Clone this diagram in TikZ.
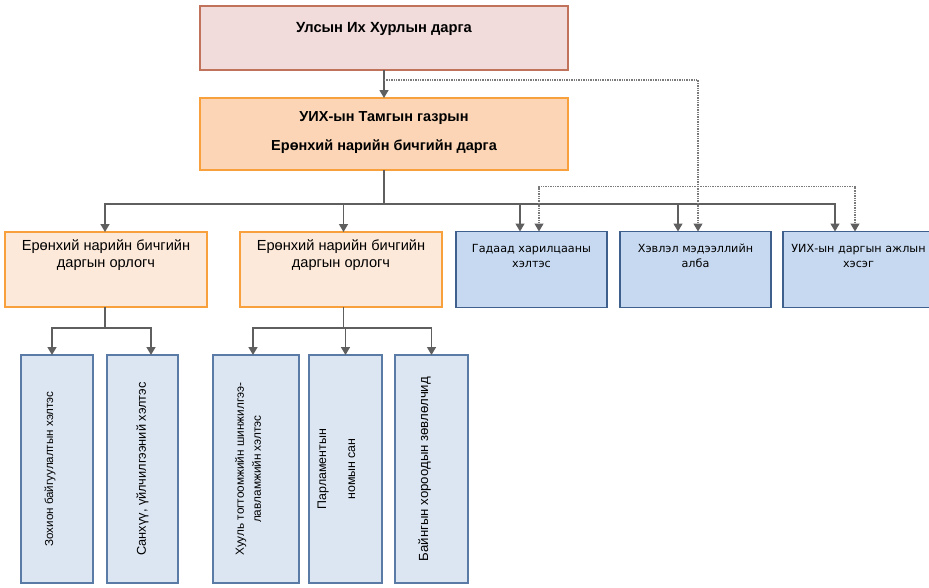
\documentclass[tikz,border=0pt]{standalone}
\usepackage{fontspec}
\setmainfont{Liberation Sans}
\newfontfamily\dejavu{DejaVu Sans}
\usetikzlibrary{positioning,arrows.meta}

\definecolor{chairfill}{HTML}{F2DCDB}
\definecolor{chairline}{HTML}{C0735A}
\definecolor{secfill}{HTML}{FBD5B5}
\definecolor{orangeline}{HTML}{F7A03C}
\definecolor{depfill}{HTML}{FDE9D9}
\definecolor{midfill}{HTML}{C6D9F1}
\definecolor{midline}{HTML}{3F5F8C}
\definecolor{botfill}{HTML}{DCE6F2}
\definecolor{botline}{HTML}{5B7BA7}
\definecolor{linkgray}{HTML}{5F5F5F}
\definecolor{dotgray}{HTML}{7A7A7A}
\definecolor{textdark}{HTML}{1E1E1E}

\begin{document}
\begin{tikzpicture}[
        x=1pt, y=-1pt,
        box/.style={
            rectangle,
            draw,
            line width=1.4pt,
            inner sep=0pt,
            outer sep=0pt,
            text=textdark
        },
        chairbox/.style={box, fill=chairfill, draw=chairline,
            minimum width=368pt, minimum height=64pt},
        secbox/.style={box, fill=secfill, draw=orangeline,
            minimum width=368pt, minimum height=72pt},
        depbox/.style={box, fill=depfill, draw=orangeline,
            minimum width=202pt, minimum height=75pt},
        midbox/.style={box, fill=midfill, draw=midline,
            minimum width=151pt, minimum height=76pt},
        botbox/.style={box, fill=botfill, draw=botline,
            minimum width=72pt, minimum height=228pt},
        arrow/.style={
            -{Triangle[width=9pt,length=8pt]},
            line width=1.4pt,
            draw=linkgray
        },
        link/.style={line width=1.4pt, draw=linkgray},
        dotarrow/.style={arrow, densely dotted, line width=1.3pt, draw=dotgray,
            -{Triangle[width=9pt,length=8pt,fill=linkgray,color=linkgray]}}
    ]

    \useasboundingbox (0,0) rectangle (929,587);

    % Chairman and secretary general
    \node[chairbox, label={[anchor=center, yshift=-23pt,
        font=\fontsize{14.7}{17}\selectfont\bfseries]north:Улсын Их Хурлын дарга}]
        (chair) at (384,38) {};
    \node[secbox, below=28pt of chair, label={[anchor=center, yshift=-34.5pt, align=center,
        font=\fontsize{14.5}{29}\selectfont\bfseries]north:УИХ-ын Тамгын газрын\\Ерөнхий нарийн бичгийн дарга}]
        (sec) {};

    % Deputies and units
    \node[depbox, anchor=north west, label={[anchor=center, yshift=-23.5pt, align=center,
        font=\fontsize{14.6}{17}\selectfont]north:Ерөнхий нарийн бичгийн\\даргын орлогч}]
        (dep1) at (5,232) {};
    \node[depbox, right=33pt of dep1, label={[anchor=center, yshift=-23.5pt, align=center,
        font=\fontsize{14.6}{17}\selectfont]north:Ерөнхий нарийн бичгийн\\даргын орлогч}]
        (dep2) {};
    \node[midbox, right=14pt of dep2, label={[anchor=center, yshift=-24.5pt, align=center,
        font=\dejavu\fontsize{11.2}{15}\selectfont]north:Гадаад харилцааны\\хэлтэс}]
        (foreign) {};
    \node[midbox, right=13pt of foreign, label={[anchor=center, yshift=-24.5pt, align=center,
        font=\dejavu\fontsize{11.2}{15}\selectfont]north:Хэвлэл мэдээллийн\\алба}]
        (press) {};
    \node[midbox, right=12pt of press, label={[anchor=center, yshift=-24.5pt, align=center,
        font=\dejavu\fontsize{11.2}{15}\selectfont]north:УИХ-ын даргын ажлын\\хэсэг}]
        (office) {};

    % Departments
    \node[botbox, anchor=north west, label={[xshift=-7pt, rotate=90,
        font=\fontsize{11.6}{14}\selectfont]center:Зохион байгуулалтын хэлтэс}]
        (orgdept) at (21,355) {};
    \node[botbox, minimum width=71pt, right=14pt of orgdept, label={[rotate=90,
        font=\fontsize{12.8}{15}\selectfont]center:Санхүү, үйлчилгээний хэлтэс}]
        (findept) {};
    \node[botbox, minimum width=86pt, anchor=north west, label={[xshift=-8pt, rotate=90, align=center,
        font=\fontsize{11.8}{17}\selectfont]center:Хууль тогтоомжийн шинжилгээ-\\лавламжийн хэлтэс}]
        (legal) at (213,355) {};
    \node[botbox, minimum width=73pt, right=10pt of legal, label={[xshift=-9pt, rotate=90, align=center,
        font=\fontsize{12.4}{29}\selectfont]center:Парламентын\\номын сан}]
        (library) {};
    \node[botbox, minimum width=73pt, right=13pt of library, label={[xshift=-7pt, rotate=90,
        font=\fontsize{13.2}{15}\selectfont]center:Байнгын хороодын зөвлөлчид}]
        (council) {};

    % Branch points
    \coordinate (split) at ([yshift=-10pt]chair.south);
    \coordinate (bus) at ([yshift=-34pt]sec.south);
    \coordinate (dotbus) at ([xshift=2.5pt, yshift=45pt]press.north);
    \coordinate (bus1) at ([xshift=-1pt, yshift=-21pt]dep1.south);
    \coordinate (bus2) at ([xshift=2.5pt, yshift=-21pt]dep2.south);

    % Connections
    \draw[arrow] (chair) -- (sec);
    \draw[link] (sec) -- (bus);
    \draw[arrow] (bus) -| ([xshift=-1pt]dep1.north);
    \draw[arrow] (bus) -| ([xshift=2.5pt]dep2.north);
    \draw[arrow] (bus) -| ([xshift=-11.5pt]foreign.north);
    \draw[arrow] (bus) -| ([xshift=-17.5pt]press.north);
    \draw[arrow] (bus) -| ([xshift=-23.5pt]office.north);

    % Dotted links
    \draw[dotarrow] (split) -| ([xshift=2.5pt]press.north);
    \draw[dotarrow] (dotbus) -| ([xshift=7.5pt]foreign.north);
    \draw[dotarrow] (dotbus) -| ([xshift=-3.5pt]office.north);

    % Lower level
    \draw[link] ([xshift=-1pt]dep1.south) -- (bus1);
    \draw[arrow] (bus1) -| ([xshift=-5pt]orgdept.north);
    \draw[arrow] (bus1) -| ([xshift=8.5pt]findept.north);
    \draw[link] ([xshift=2.5pt]dep2.south) -- (bus2);
    \draw[arrow] (bus2) -| ([xshift=-3pt]legal.north);
    \draw[arrow] (bus2) -| (library);
    \draw[arrow] (bus2) -| (council);

\end{tikzpicture}
\end{document}
